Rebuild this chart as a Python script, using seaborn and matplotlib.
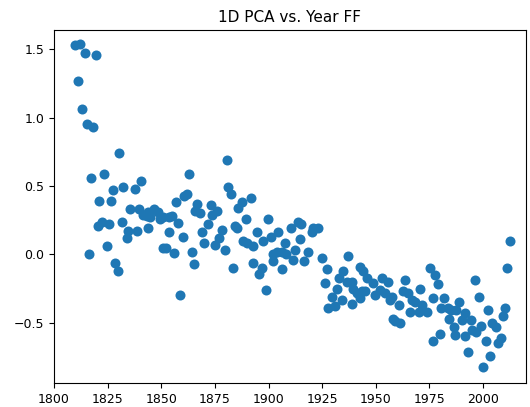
import matplotlib
matplotlib.use("Agg")
import matplotlib.pyplot as plt
import seaborn as sns
import pandas as pd

years = [
    1809.8, 1812.1, 1811.3, 1814.5, 1819.4, 1813.0, 1815.2, 1818.3, 1816.5, 1817.1,
    1823.3, 1830.4, 1827.4, 1832.3, 1837.8, 1840.6, 1821.1, 1826.6, 1835.4, 1839.5,
    1822.4, 1820.4, 1825.8, 1831.5, 1834.7, 1833.9, 1838.8, 1824.6, 1828.4, 1829.7,
    1841.6, 1843.2, 1844.7, 1844.0, 1846.5, 1848.3, 1851.0, 1853.5, 1855.2, 1849.4,
    1843.7, 1853.8, 1851.0, 1852.0, 1856.1, 1857.0, 1858.0, 1858.6, 1860.3, 1860.8,
    1861.8, 1862.9, 1864.2, 1865.3, 1865.7, 1866.8, 1868.0, 1869.1, 1870.0, 1872.0,
    1873.2, 1873.5, 1875.0, 1875.8, 1877.1, 1878.2, 1879.6, 1880.5, 1881.3, 1882.4,
    1883.6, 1884.4, 1885.2, 1885.9, 1887.5, 1888.3, 1889.4, 1890.1, 1891.7, 1892.6,
    1892.9, 1894.5, 1895.6, 1896.8, 1897.6, 1898.8, 1899.6, 1901.0, 1902.2, 1902.2,
    1903.8, 1904.6, 1906.1, 1906.1, 1907.7, 1908.2, 1910.4, 1913.9, 1915.2, 1920.9,
    1923.2, 1920.1, 1914.7, 1912.4, 1918.6, 1911.6, 1916.7, 1925.1, 1927.1, 1937.2,
    1926.3, 1934.9, 1933.0, 1942.7, 1931.8, 1936.5, 1938.8, 1929.5, 1934.1, 1939.5,
    1941.1, 1943.4, 1927.6, 1931.0, 1938.8, 1942.7, 1944.2, 1945.8, 1948.9, 1952.8,
    1955.9, 1945.0, 1949.7, 1952.0, 1954.3, 1957.4, 1956.6, 1963.6, 1962.9, 1965.2,
    1961.0, 1966.7, 1970.6, 1968.3, 1971.4, 1966.0, 1969.9, 1973.7, 1975.3, 1977.6,
    1976.8, 1979.2, 1958.2, 1961.3, 1959.0, 1976.8, 1980.0, 2012.4, 2011.3, 1981.8,
    1980.6, 1983.6, 1984.9, 1988.8, 1987.6, 1991.8, 1996.1, 1998.2, 1984.0, 1990.2,
    1994.2, 1986.3, 1987.1, 1991.4, 1994.8, 1996.9, 1999.2, 2002.3, 2004.2, 2005.8,
    2010.4, 2009.3, 2008.2, 2007.0, 2001.5, 2003.4, 1993.0, 2000.0,
]

pca_values = [
    1.53, 1.54, 1.27, 1.47, 1.46, 1.06, 0.95, 0.93, 0.00, 0.56,
    0.59, 0.74, 0.47, 0.49, 0.48, 0.54, 0.39, 0.39, 0.33, 0.33,
    0.24, 0.21, 0.22, 0.24, 0.17, 0.12, 0.17, 0.06, -0.06, -0.12,
    0.29, 0.28, 0.27, 0.31, 0.33, 0.31, 0.27, 0.27, 0.28, 0.26,
    0.19, 0.16, 0.05, 0.05, 0.01, 0.38, 0.23, -0.30, 0.13, 0.43,
    0.44, 0.59, 0.02, -0.07, 0.32, 0.37, 0.30, 0.16, 0.08, 0.22,
    0.36, 0.29, 0.07, 0.32, 0.12, 0.18, 0.03, 0.69, 0.49, 0.44,
    -0.10, 0.21, 0.19, 0.34, 0.38, 0.10, 0.26, 0.08, 0.41, -0.06,
    0.06, 0.16, -0.14, -0.10, 0.10, -0.26, 0.26, 0.125, 0.00, -0.05,
    0.02, 0.16, 0.02, -0.11, 0.08, 0.00, 0.19, 0.24, 0.22, 0.19,
    0.19, 0.16, 0.11, 0.03, 0.02, -0.04, -0.05, -0.03, -0.11, -0.01,
    -0.21, -0.125, -0.17, -0.09, -0.25, -0.20, -0.20, -0.31, -0.33, -0.25,
    -0.28, -0.27, -0.39, -0.38, -0.36, -0.32, -0.125, -0.17, -0.21, -0.17,
    -0.20, -0.27, -0.30, -0.26, -0.28, -0.31, -0.33, -0.19, -0.27, -0.28,
    -0.37, -0.33, -0.25, -0.35, -0.37, -0.42, -0.42, -0.42, -0.10, -0.15,
    -0.32, -0.22, -0.47, -0.50, -0.49, -0.63, -0.58, 0.10, -0.10, -0.32,
    -0.39, -0.39, -0.41, -0.35, -0.41, -0.43, -0.19, -0.31, -0.47, -0.48,
    -0.48, -0.53, -0.59, -0.60, -0.55, -0.57, -0.52, -0.41, -0.50, -0.53,
    -0.39, -0.45, -0.61, -0.65, -0.63, -0.74, -0.71, -0.82,
]

x_ticks = [1800, 1825, 1850, 1875, 1900, 1925, 1950, 1975, 2000]
y_ticks = [-0.5, 0.0, 0.5, 1.0, 1.5]

df = pd.DataFrame({"year": years, "pca": pca_values})

fig = plt.figure(figsize=(5.30, 4.07), dpi=100)
ax = fig.add_axes([54 / 530, 1 - 383 / 407, (526 - 54) / 530, (383 - 30) / 407])

sns.scatterplot(data=df, x="year", y="pca", color="#1f77b4", s=52,
                linewidth=0, ax=ax, legend=False)

ax.set_xlim(1800, 2020)
ax.set_ylim(-0.94, 1.64)
ax.set_xticks(x_ticks)
ax.set_yticks(y_ticks)
ax.set_xlabel("")
ax.set_ylabel("")
ax.tick_params(labelsize=9)
ax.set_title("1D PCA vs. Year FF", fontsize=11)

fig.savefig("out.png", dpi=100)
